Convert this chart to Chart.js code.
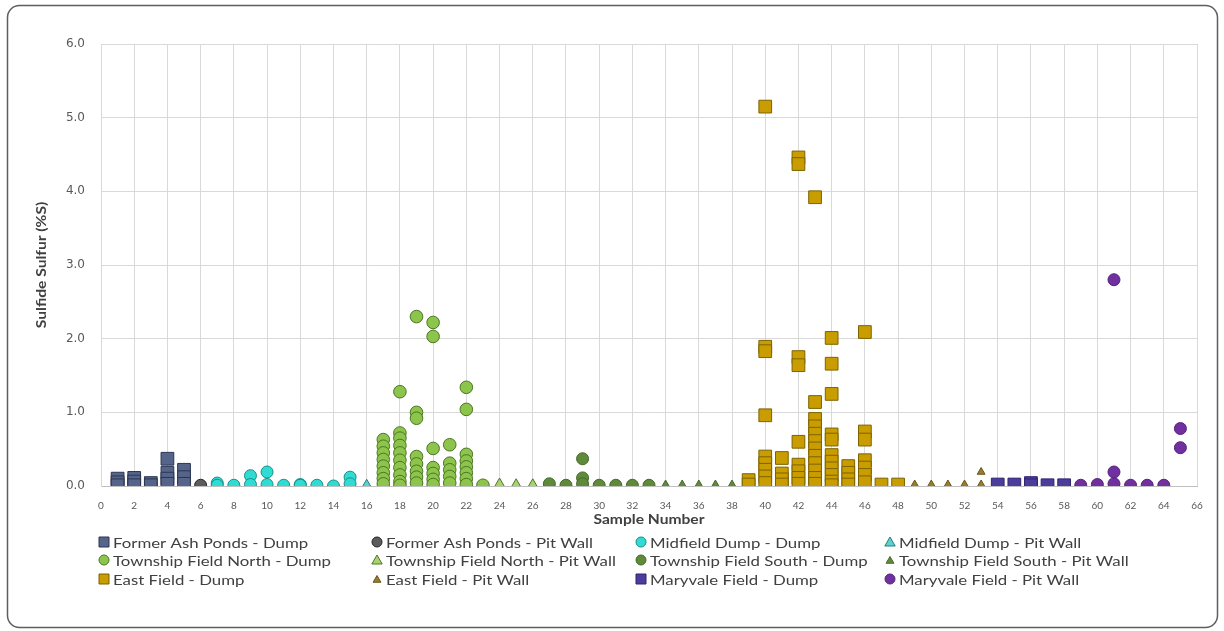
<!DOCTYPE html>
<html>
<head>
<meta charset="utf-8">
<title>Sulfide Sulfur by Sample</title>
<script src="https://cdn.jsdelivr.net/npm/chart.js@4.4.1/dist/chart.umd.min.js"></script>
<style>
  html, body { margin: 0; padding: 0; background: #ffffff; }
  canvas { display: block; }
</style>
</head>
<body>
<canvas id="chart" width="1224" height="631"></canvas>
<script>
// Sulfide sulfur (%S) per sample, grouped by source area and material type.
// Each entry is [sample number, %S].
const formerAshPondsDump = [
  [1, 0.10], [1, 0.05], [1, 0.01], [2, 0.11], [2, 0.06], [2, 0.01],
  [3, 0.04], [3, 0.01], [4, 0.37], [4, 0.18], [4, 0.10], [4, 0.03],
  [5, 0.22], [5, 0.12], [5, 0.03]
];
const formerAshPondsPitWall = [[6, 0.01]];
const midfieldDumpDump = [
  [7, 0.04], [7, 0.01], [8, 0.01], [9, 0.14], [9, 0.02], [10, 0.19], [10, 0.02],
  [11, 0.01], [12, 0.02], [12, 0.01], [13, 0.01], [14, 0.00], [15, 0.12], [15, 0.03]
];
const midfieldDumpPitWall = [[16, 0.01]];
const townshipNorthDump = [
  [17, 0.63], [17, 0.54], [17, 0.45], [17, 0.36], [17, 0.27], [17, 0.18], [17, 0.10], [17, 0.03],
  [18, 1.28], [18, 0.72], [18, 0.65], [18, 0.55], [18, 0.45], [18, 0.35], [18, 0.25], [18, 0.15], [18, 0.06], [18, 0.01],
  [19, 2.30], [19, 1.00], [19, 0.92], [19, 0.40], [19, 0.30], [19, 0.20], [19, 0.12], [19, 0.04],
  [20, 2.22], [20, 2.03], [20, 0.51], [20, 0.25], [20, 0.17], [20, 0.09], [20, 0.02],
  [21, 0.56], [21, 0.31], [21, 0.22], [21, 0.13], [21, 0.04],
  [22, 1.34], [22, 1.04], [22, 0.43], [22, 0.34], [22, 0.26], [22, 0.18], [22, 0.10], [22, 0.02],
  [23, 0.01]
];
const townshipNorthPitWall = [[24, 0.02], [25, 0.01], [26, 0.01]];
const townshipSouthDump = [
  [27, 0.03], [28, 0.01], [29, 0.37], [29, 0.11], [29, 0.03],
  [30, 0.01], [31, 0.01], [32, 0.01], [33, 0.01]
];
const townshipSouthPitWall = [[34, 0.02], [35, 0.02], [36, 0.02], [37, 0.02], [38, 0.02]];
const eastFieldDump = [
  [39, 0.08], [39, 0.02],
  [40, 5.15], [40, 1.89], [40, 1.83], [40, 0.96], [40, 0.40], [40, 0.31], [40, 0.22], [40, 0.13], [40, 0.04],
  [41, 0.38], [41, 0.17], [41, 0.09], [41, 0.02],
  [42, 4.46], [42, 4.37], [42, 1.75], [42, 1.64], [42, 0.60], [42, 0.29], [42, 0.20], [42, 0.11], [42, 0.03],
  [43, 3.92], [43, 1.14], [43, 0.91], [43, 0.81], [43, 0.71], [43, 0.61], [43, 0.51], [43, 0.41], [43, 0.31], [43, 0.21], [43, 0.11], [43, 0.03],
  [44, 2.01], [44, 1.66], [44, 1.25], [44, 0.70], [44, 0.63], [44, 0.42], [44, 0.33], [44, 0.24], [44, 0.15], [44, 0.06], [44, 0.01],
  [45, 0.27], [45, 0.18], [45, 0.09], [45, 0.02],
  [46, 2.09], [46, 0.74], [46, 0.63], [46, 0.35], [46, 0.25], [46, 0.15], [46, 0.05],
  [47, 0.02], [48, 0.02]
];
const eastFieldPitWall = [[49, 0.02], [50, 0.02], [51, 0.02], [52, 0.02], [53, 0.19], [53, 0.02]];
const maryvaleDump = [[54, 0.02], [55, 0.02], [56, 0.04], [56, 0.01], [57, 0.01], [58, 0.01]];
const maryvalePitWall = [
  [59, 0.01], [60, 0.02], [61, 2.80], [61, 0.19], [61, 0.03],
  [62, 0.01], [63, 0.01], [64, 0.01], [65, 0.78], [65, 0.52]
];

const seriesLabels = [
  'Former Ash Ponds - Dump', 'Former Ash Ponds - Pit Wall', 'Midfield Dump - Dump', 'Midfield Dump - Pit Wall',
  'Township Field North - Dump', 'Township Field North - Pit Wall', 'Township Field South - Dump', 'Township Field South - Pit Wall',
  'East Field - Dump', 'East Field - Pit Wall', 'Maryvale Field - Dump', 'Maryvale Field - Pit Wall'
];
const seriesData = [
  formerAshPondsDump, formerAshPondsPitWall, midfieldDumpDump, midfieldDumpPitWall,
  townshipNorthDump, townshipNorthPitWall, townshipSouthDump, townshipSouthPitWall,
  eastFieldDump, eastFieldPitWall, maryvaleDump, maryvalePitWall
];

const xRange = { min: 0, max: 66, step: 2 };
const yRange = { min: 0, max: 6, step: 1 };
const xTitle = 'Sample Number';
const yTitle = 'Sulfide Sulfur (%S)';

// marker style per series: shape, radius, fill, outline
const markerStyles = [
  { shape: 'rect',     r: 9,   fill: '#56648a', line: '#2b3652' },
  { shape: 'circle',   r: 6,   fill: '#5c5c5c', line: '#262626' },
  { shape: 'circle',   r: 6,   fill: '#2fdcd4', line: '#1c8e89' },
  { shape: 'triangle', r: 6,   fill: '#5fd0cc', line: '#22807e' },
  { shape: 'circle',   r: 6.3, fill: '#8dc44b', line: '#4c7624' },
  { shape: 'triangle', r: 6.5, fill: '#a8d46f', line: '#4c7624' },
  { shape: 'circle',   r: 6,   fill: '#5f8a3a', line: '#44692a' },
  { shape: 'triangle', r: 4.5, fill: '#5f8a3a', line: '#44692a' },
  { shape: 'rect',     r: 9,   fill: '#c99c00', line: '#7d6300' },
  { shape: 'triangle', r: 4.5, fill: '#9a7e26', line: '#65551d' },
  { shape: 'rect',     r: 9,   fill: '#4e3c9c', line: '#2f2473' },
  { shape: 'circle',   r: 6,   fill: '#7030a0', line: '#55237d' }
];

const FONT = 'Lato, "Open Sans", "Liberation Sans", sans-serif';
const TEXT_STRETCH = 1.2;

const datasets = seriesData.map((rows, i) => ({
  label: seriesLabels[i],
  data: rows.map(([x, y]) => ({ x, y })),
  pointStyle: markerStyles[i].shape,
  pointRadius: markerStyles[i].r,
  pointBackgroundColor: markerStyles[i].fill,
  pointBorderColor: markerStyles[i].line,
  pointBorderWidth: 1,
  showLine: false
}));

function drawMarker(ctx, shape, x, y, r, fill, line) {
  ctx.beginPath();
  if (shape === 'circle') {
    ctx.arc(x, y, r, 0, Math.PI * 2);
  } else if (shape === 'rect') {
    ctx.rect(x - r, y - r, 2 * r, 2 * r);
  } else {
    ctx.moveTo(x, y - r);
    ctx.lineTo(x + r * 0.866, y + r * 0.5);
    ctx.lineTo(x - r * 0.866, y + r * 0.5);
    ctx.closePath();
  }
  ctx.fillStyle = fill;
  ctx.fill();
  ctx.lineWidth = 1;
  ctx.strokeStyle = line;
  ctx.stroke();
}

// text drawn slightly widened along its baseline
function stretchedText(ctx, text, x, y, angle, align) {
  ctx.save();
  ctx.translate(x, y);
  ctx.rotate(angle);
  ctx.scale(TEXT_STRETCH, 1);
  ctx.textAlign = align;
  ctx.textBaseline = 'middle';
  ctx.fillText(text, 0, 0);
  ctx.restore();
}

// white page with a rounded frame behind the chart
const framePlugin = {
  id: 'frame',
  beforeDraw(chart) {
    const ctx = chart.ctx;
    ctx.save();
    ctx.fillStyle = '#ffffff';
    ctx.fillRect(0, 0, chart.width, chart.height);
    ctx.beginPath();
    ctx.roundRect(7.5, 5.5, 1210, 622, 12);
    ctx.lineWidth = 1.5;
    ctx.strokeStyle = '#5e5e5e';
    ctx.stroke();
    ctx.restore();
  }
};

// axis titles and the four-column legend
const annotationPlugin = {
  id: 'axisTitlesAndLegend',
  afterDraw(chart) {
    const ctx = chart.ctx;
    const area = chart.chartArea;
    ctx.save();
    ctx.fillStyle = '#404040';
    ctx.font = 'bold 13px ' + FONT;
    stretchedText(ctx, xTitle, (area.left + area.right) / 2, 520, 0, 'center');
    stretchedText(ctx, yTitle, 42, (area.top + area.bottom) / 2, -Math.PI / 2, 'center');

    const colX = [104, 377, 641, 890];
    const rowY = [542, 560, 579];
    const legendSize = { rect: 5, circle: 5, triangle: 6 };
    ctx.font = '14px ' + FONT;
    chart.data.datasets.forEach((ds, i) => {
      const st = markerStyles[i];
      const cx = colX[i % 4];
      const cy = rowY[Math.floor(i / 4)];
      let r = legendSize[st.shape];
      if (st.shape === 'triangle' && st.r < 5) r = 4.5;
      drawMarker(ctx, st.shape, cx, cy + (st.shape === 'triangle' ? 1 : 0), r, st.fill, st.line);
      ctx.fillStyle = '#404040';
      stretchedText(ctx, ds.label, cx + 9, cy + 1, 0, 'left');
    });
    ctx.restore();
  }
};

new Chart(document.getElementById('chart'), {
  type: 'scatter',
  data: { datasets },
  plugins: [framePlugin, annotationPlugin],
  options: {
    responsive: false,
    devicePixelRatio: 1,
    animation: false,
    layout: { padding: { left: 10, right: 27, top: 44, bottom: 100 } },
    plugins: {
      legend: { display: false },
      tooltip: { enabled: false }
    },
    scales: {
      x: {
        type: 'linear',
        min: xRange.min,
        max: xRange.max,
        afterFit(scale) { scale.height = 45; },
        ticks: {
          stepSize: xRange.step,
          padding: 14,
          color: '#595959',
          font: { family: FONT, size: 10 },
          maxRotation: 0,
          autoSkip: false
        },
        grid: { color: '#d9d9d9', lineWidth: 1, drawTicks: false },
        border: { color: '#bfbfbf' }
      },
      y: {
        type: 'linear',
        min: yRange.min,
        max: yRange.max,
        afterFit(scale) { scale.width = 91; },
        ticks: {
          stepSize: yRange.step,
          padding: 16,
          color: '#595959',
          font: { family: '"DejaVu Sans", ' + FONT, size: 12 },
          callback: (v) => Number(v).toFixed(1)
        },
        grid: { color: '#d9d9d9', lineWidth: 1, drawTicks: false },
        border: { color: '#d9d9d9' }
      }
    }
  }
});
</script>
</body>
</html>
